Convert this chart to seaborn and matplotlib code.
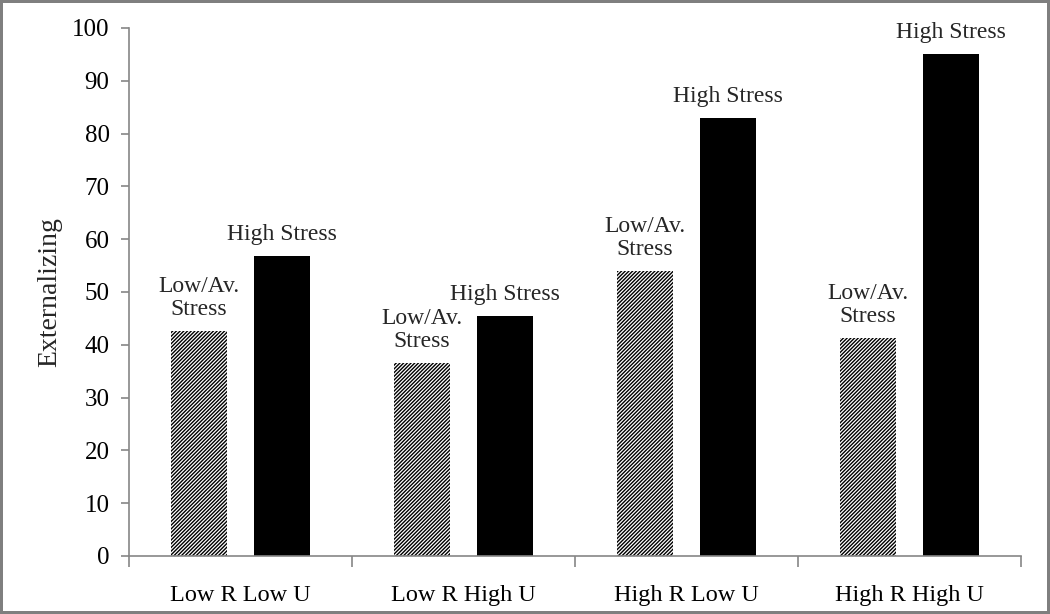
import numpy as np
import pandas as pd
import matplotlib.pyplot as plt
import seaborn as sns

# data
groups = ['Low R Low U', 'Low R High U', 'High R Low U', 'High R High U']
low_stress = [42.6, 36.6, 54.0, 41.3]
high_stress = [56.8, 45.5, 83.0, 95.0]
stress_levels = ['Low/Av.\nStress', 'High Stress']

df = pd.DataFrame({
    'Group': groups * 2,
    'Stress': [stress_levels[0]] * 4 + [stress_levels[1]] * 4,
    'Externalizing': low_stress + high_stress,
})

sns.set_theme(style='white')
plt.rcParams['font.family'] = ['Liberation Serif', 'DejaVu Serif']
plt.rcParams['hatch.linewidth'] = 1.0

fig = plt.figure(figsize=(10.5, 6.14), dpi=100, edgecolor='#7f7f7f', linewidth=3)
ax = fig.add_axes([0.1229, 0.0945, 0.8495, 0.8599])

sns.barplot(data=df, x='Group', y='Externalizing', hue='Stress',
            palette=['white', 'black'], width=0.75, gap=0.33,
            edgecolor='black', linewidth=0, legend=False, ax=ax)

# hatch the low/average stress bars
n = len(groups)
for i, bar in enumerate(ax.patches[:2 * n]):
    if i < n:
        bar.set_hatch('/' * 9)
        bar.set_edgecolor('black')
        bar.set_linewidth(0)
    label = df['Stress'].iloc[i]
    ax.annotate(label, (bar.get_x() + bar.get_width() / 2, bar.get_height()),
                xytext=(0, 8), textcoords='offset points', ha='center', va='bottom',
                fontsize=17, linespacing=1.1)

ax.set_xlim(-0.5, n - 0.5)
ax.set_ylim(0, 100)
ax.set_yticks(np.arange(0, 101, 10))
ax.set_xlabel('')
ax.set_ylabel('Externalizing', fontsize=20, labelpad=7)

for side in ['top', 'right']:
    ax.spines[side].set_visible(False)
for side in ['left', 'bottom']:
    ax.spines[side].set_color('#868686')
    ax.spines[side].set_linewidth(1.2)

ax.tick_params(axis='y', which='major', left=True, length=6, width=1.2,
               color='#868686', labelsize=18, pad=8, labelcolor='black')
ax.tick_params(axis='x', which='major', length=0, labelsize=17.5, pad=21, labelcolor='black')
ax.set_xticks(np.arange(-0.5, n, 1.0), minor=True)
ax.tick_params(axis='x', which='minor', bottom=True, length=8, width=1.2, color='#868686')

fig.savefig('out.png', dpi=100, facecolor='white', edgecolor=fig.get_edgecolor())
